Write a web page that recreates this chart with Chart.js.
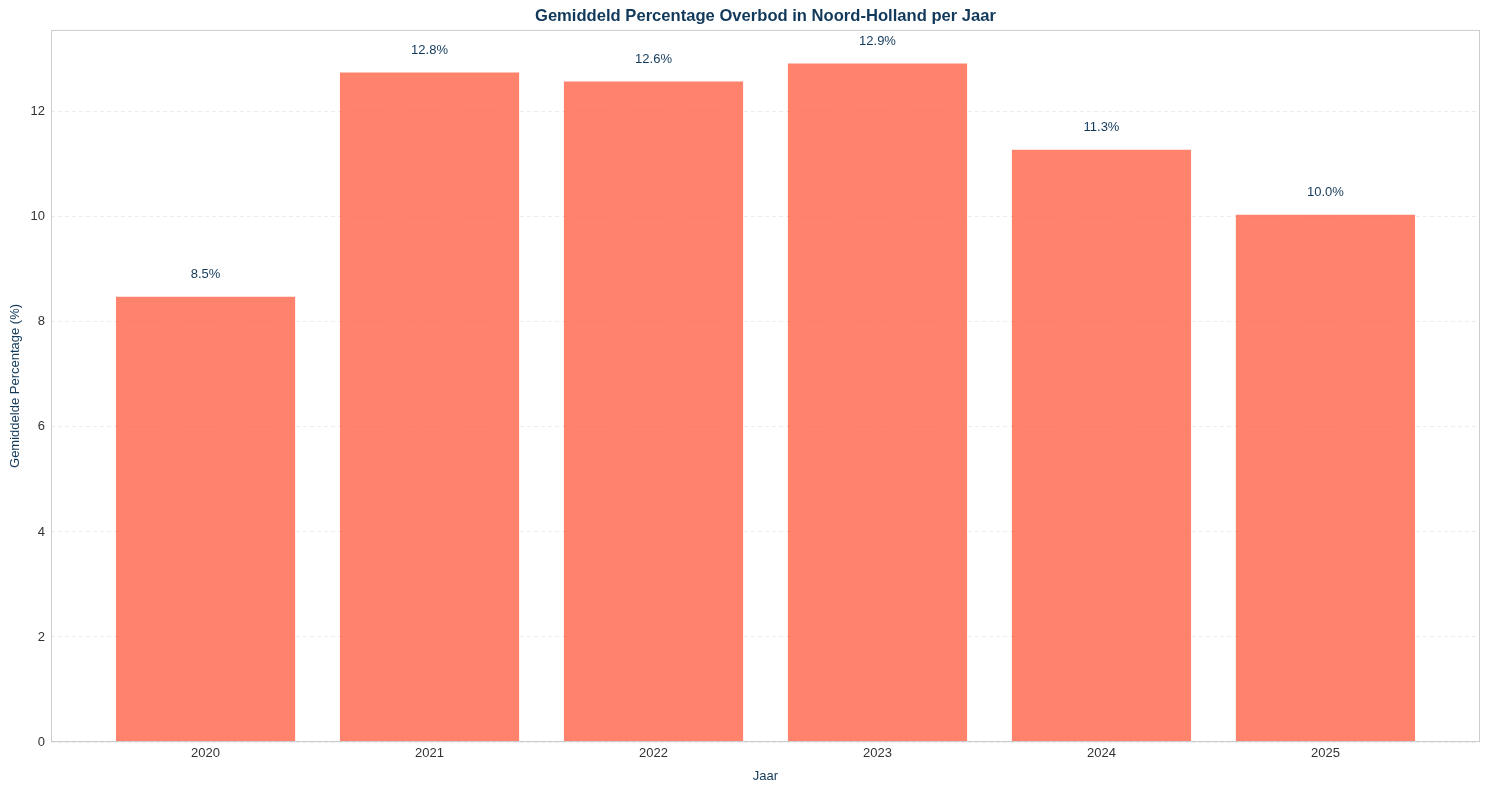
<!DOCTYPE html>
<html>
<head>
<meta charset="utf-8">
<script src="https://cdn.jsdelivr.net/npm/chart.js@4"></script>
<style>
  html, body { margin: 0; padding: 0; background: #fff; }
  #wrap { width: 1489px; height: 790px; }
</style>
</head>
<body>
<div id="wrap"><canvas id="overbod"></canvas></div>
<script>
// data
const years = ['2020', '2021', '2022', '2023', '2024', '2025']
const overbod = [8.48, 12.75, 12.58, 12.92, 11.28, 10.04]
const yTicks = [0, 2, 4, 6, 8, 10, 12]

const navy = '#12395a'
const font = '"Liberation Sans", Arial, sans-serif'

// frame around plot area + value labels above bars
const extras = {
    id: 'extras',
    afterDatasetsDraw(chart) {
        const { ctx, chartArea, scales } = chart
        ctx.save()
        ctx.strokeStyle = '#cccccc'
        ctx.lineWidth = 1
        ctx.strokeRect(chartArea.left + 0.5, chartArea.top + 0.5,
            chartArea.right - chartArea.left - 1, chartArea.bottom - chartArea.top - 1)

        ctx.fillStyle = navy
        ctx.font = '13px ' + font
        ctx.textAlign = 'center'
        ctx.textBaseline = 'bottom'
        overbod.forEach((v, i) => {
            const x = scales.x.getPixelForValue(i)
            const y = scales.y.getPixelForValue(v + 0.3)
            ctx.fillText(v.toFixed(1) + '%', x, y)
        })
        ctx.restore()
    }
}

new Chart(document.getElementById('overbod'), {
    type: 'bar',
    data: {
        datasets: [{
            data: overbod.map((v, i) => ({ x: i, y: v })),
            backgroundColor: 'rgba(255, 99, 71, 0.8)',
            barPercentage: 0.8,
            categoryPercentage: 1.0
        }]
    },
    options: {
        responsive: true,
        maintainAspectRatio: false,
        animation: false,
        layout: { padding: { left: 8, right: 9, top: 0, bottom: 6 } },
        plugins: {
            legend: { display: false },
            tooltip: { enabled: false },
            title: {
                display: true,
                fullSize: false,
                text: 'Gemiddeld Percentage Overbod in Noord-Holland per Jaar',
                color: navy,
                font: { family: font, size: 16.6, weight: 'bold' },
                padding: { top: 6, bottom: 4 }
            }
        },
        scales: {
            x: {
                type: 'linear',
                offset: false,
                min: -0.69,
                max: 5.69,
                grid: { display: false, drawTicks: false },
                border: { display: false },
                afterBuildTicks: s => { s.ticks = years.map((y, i) => ({ value: i })) },
                afterFit: s => { s.height = 42 },
                ticks: {
                    color: '#333',
                    padding: 4,
                    maxRotation: 0,
                    font: { family: font, size: 13 },
                    callback: v => years[v]
                },
                title: {
                    display: true,
                    text: 'Jaar',
                    color: navy,
                    padding: { top: 4, bottom: 0 },
                    font: { family: font, size: 13 }
                }
            },
            y: {
                min: 0,
                max: 13.56,
                grid: { color: '#ececec', drawTicks: false },
                border: { display: false, dash: [4, 3] },
                afterBuildTicks: s => { s.ticks = yTicks.map(v => ({ value: v })) },
                afterFit: s => { s.width = 43 },
                ticks: {
                    color: '#333',
                    padding: 6,
                    font: { family: font, size: 13 }
                },
                title: {
                    display: true,
                    text: 'Gemiddelde Percentage (%)',
                    color: navy,
                    padding: { top: 0, bottom: 2 },
                    font: { family: font, size: 13 }
                }
            }
        }
    },
    plugins: [extras]
})
</script>
</body>
</html>
